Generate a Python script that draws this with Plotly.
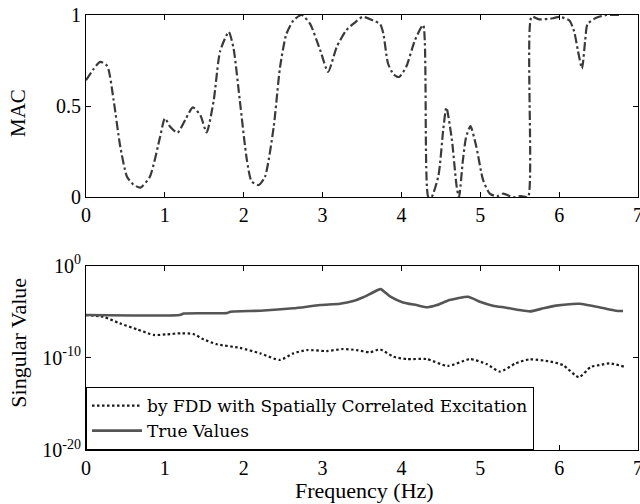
import plotly.graph_objects as go

# ---- Top panel: MAC vs frequency ----
mac_freq = [0, 0.09, 0.18, 0.27, 0.35, 0.435, 0.52, 0.6, 0.69, 0.81, 0.94, 1.0, 1.07, 1.16,
            1.26, 1.355, 1.45, 1.53, 1.62, 1.70, 1.81, 1.87, 1.95, 2.04, 2.10, 2.19, 2.27,
            2.38, 2.46, 2.54, 2.63, 2.735, 2.84, 2.97, 3.07, 3.18, 3.30, 3.40, 3.51, 3.64,
            3.73, 3.77, 3.83, 3.90, 3.97, 4.06, 4.17, 4.275, 4.34, 4.38, 4.47, 4.53, 4.57,
            4.64, 4.70, 4.73, 4.78, 4.82, 4.875, 4.95, 5.035, 5.12, 5.21, 5.29, 5.415, 5.52,
            5.605, 5.65, 5.75, 5.92, 6.0, 6.13, 6.19, 6.24, 6.29, 6.33, 6.36, 6.47, 6.60, 6.77]
mac_values = [0.642, 0.70, 0.743, 0.72, 0.533, 0.277, 0.113, 0.07, 0.053, 0.113, 0.332, 0.433,
              0.385, 0.354, 0.426, 0.493, 0.45, 0.356, 0.533, 0.80, 0.907, 0.82, 0.533, 0.205,
              0.087, 0.067, 0.113, 0.385, 0.712, 0.895, 0.97, 1.0, 0.953, 0.807, 0.688, 0.825,
              0.916, 0.955, 0.99, 0.97, 0.95, 0.90, 0.734, 0.675, 0.66, 0.715, 0.86, 0.945,
              0.003, 0.0, 0.12, 0.37, 0.493, 0.315, 0.06, 0.0, 0.205, 0.33, 0.39, 0.277, 0.095,
              0.02, 0.005, 0.02, 0.0, 0.007, 0.0, 0.99, 0.976, 0.982, 0.99, 0.97, 0.91, 0.80,
              0.706, 0.86, 0.95, 0.985, 1.0, 1.0]

# ---- Bottom panel: singular values ----
true_freq = [0, 1.19, 1.24, 1.79, 1.83, 2.21, 2.63, 2.97, 3.22, 3.39, 3.50, 3.62, 3.735, 3.86,
             4.02, 4.19, 4.33, 4.45, 4.61, 4.845, 4.995, 5.16, 5.33, 5.50, 5.63, 5.80, 5.96,
             6.17, 6.26, 6.51, 6.72, 6.81]
true_values = [4.3e-6, 4.3e-6, 6.3e-6, 7.1e-6, 1.0e-5, 1.26e-5, 2.3e-5, 5.2e-5, 7.1e-5, 1.4e-4,
               3.2e-4, 1.0e-3, 2.8e-3, 4.2e-4, 1.0e-4, 5.2e-5, 3.0e-5, 5.2e-5, 1.8e-4, 4.2e-4,
               1.2e-4, 4.5e-5, 2.7e-5, 1.5e-5, 1.07e-5, 2.3e-5, 4.5e-5, 6.9e-5, 7.2e-5, 3.0e-5,
               1.26e-5, 1.17e-5]

fdd_freq = [0, 0.22, 0.43, 0.65, 0.86, 1.03, 1.20, 1.36, 1.49, 1.66, 1.95, 2.21, 2.46, 2.63,
            2.80, 3.05, 3.26, 3.43, 3.60, 3.73, 3.90, 4.07, 4.32, 4.59, 4.87, 5.08, 5.25, 5.45,
            5.63, 5.89, 6.05, 6.25, 6.40, 6.51, 6.64, 6.82]
fdd_values = [4.3e-6, 2.8e-6, 5.4e-7, 1.2e-7, 3.0e-8, 3.5e-8, 4.5e-8, 3.8e-8, 1.0e-8, 2.9e-9,
              1.2e-9, 3.0e-10, 5.8e-11, 3.0e-10, 6.9e-10, 5.4e-10, 8.9e-10, 6.9e-10, 4.0e-10,
              7.9e-10, 1.3e-10, 7.2e-11, 7.2e-11, 1.3e-11, 7.1e-11, 2.1e-11, 3.2e-12, 2.5e-11,
              6.8e-11, 3.8e-11, 1.6e-11, 7.9e-13, 1.0e-11, 1.6e-11, 2.5e-11, 1.1e-11]

x_ticks = [0, 1, 2, 3, 4, 5, 6, 7]
mac_ticks = [0, 0.5, 1]
mac_tick_text = ["0", "0.5", "1"]
sv_ticks = [1, 1e-10, 1e-20]
sv_tick_text = ["10<sup>0</sup>", "10<sup>-10</sup>", "10<sup>-20</sup>"]

legend_names = ["by FDD with Spatially Correlated Excitation", "True Values"]

FONT = "Liberation Serif"
LEGEND_FONT = "DejaVu Serif"

fig = go.Figure()
fig.add_trace(go.Scatter(x=mac_freq, y=mac_values, mode="lines", xaxis="x", yaxis="y",
                         line=dict(color="#3a3a3a", width=2.2, dash="9px,3px,2.5px,3px",
                                   shape="spline", smoothing=0.6),
                         showlegend=False))
fig.add_trace(go.Scatter(x=fdd_freq, y=fdd_values, mode="lines", xaxis="x2", yaxis="y2",
                         name=legend_names[0],
                         line=dict(color="#1a1a1a", width=2.2, dash="2.5px,2.5px",
                                   shape="spline", smoothing=0.6)))
fig.add_trace(go.Scatter(x=true_freq, y=true_values, mode="lines", xaxis="x2", yaxis="y2",
                         name=legend_names[1],
                         line=dict(color="#555555", width=2.6, shape="spline", smoothing=0.5)))

axis_common = dict(showline=True, linecolor="black", linewidth=1, mirror="ticks",
                   ticks="inside", ticklen=5, tickwidth=1, tickcolor="black",
                   showgrid=False, zeroline=False, automargin=False,
                   ticklabeloverflow="allow",
                   tickfont=dict(family=FONT, size=20, color="black"))

fig.update_layout(
    width=640, height=504,
    margin=dict(l=86, r=2, t=15, b=54, autoexpand=False),
    paper_bgcolor="white", plot_bgcolor="white",
    font=dict(family=FONT, size=20, color="black"),
    xaxis=dict(domain=[0, 1], range=[0, 7], tickvals=x_ticks, anchor="y", **axis_common),
    yaxis=dict(domain=[0.581, 1], range=[0, 1], tickvals=mac_ticks, ticktext=mac_tick_text,
               anchor="x", **axis_common),
    xaxis2=dict(domain=[0, 1], range=[0, 7], tickvals=x_ticks, anchor="y2", **axis_common),
    yaxis2=dict(domain=[0, 0.424], type="log", range=[-20, 0], tickvals=sv_ticks,
                ticktext=sv_tick_text, anchor="x2", **axis_common),
    legend=dict(x=0, y=0, xanchor="left", yanchor="bottom", bgcolor="white",
                bordercolor="black", borderwidth=1,
                font=dict(family=LEGEND_FONT, size=17, color="black"),
                tracegroupgap=0, itemwidth=50),
    annotations=[
        dict(text="MAC", x=-0.123, y=0.775, xref="paper", yref="paper", textangle=-90,
             showarrow=False, xanchor="center", yanchor="middle",
             font=dict(family=FONT, size=21)),
        dict(text="Singular Value", x=-0.123, y=0.247, xref="paper", yref="paper",
             textangle=-90, showarrow=False, xanchor="center", yanchor="middle",
             font=dict(family=FONT, size=22)),
        dict(text="Frequency (Hz)", x=0.505, y=-0.092, xref="paper", yref="paper",
             showarrow=False, xanchor="center", yanchor="middle",
             font=dict(family=FONT, size=22)),
    ],
)

# the page body otherwise keeps the browser's default 8px margin
fig.write_html("out.html", config={"displayModeBar": False},
               post_script="document.body.style.margin='0';")
